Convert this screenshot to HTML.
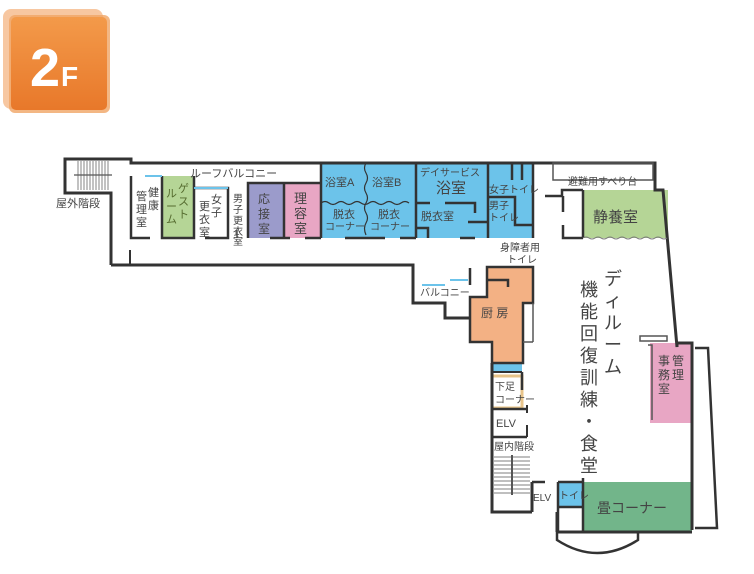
<!DOCTYPE html>
<html><head><meta charset="utf-8"><style>
html,body{margin:0;padding:0;background:#fff;width:754px;height:574px;overflow:hidden}
svg{display:block}
text{font-family:"Liberation Sans","Noto Sans CJK JP",sans-serif;fill:#444}
</style></head><body>
<svg width="754" height="574" viewBox="0 0 754 574" xmlns="http://www.w3.org/2000/svg">
<defs>
<linearGradient id="og" x1="0" y1="0" x2="0" y2="1"><stop offset="0" stop-color="#f39a4a"/><stop offset="1" stop-color="#e8782a"/></linearGradient>
</defs>
<!-- badge -->
<rect x="3" y="9" width="100" height="100" rx="8" fill="#f5b98a" opacity="0.8"/>
<rect x="9" y="15" width="101" height="98" rx="6" fill="#f0a565" opacity="0.8"/>
<rect x="11" y="17" width="96" height="93" rx="5" fill="url(#og)"/>
<text x="30" y="86" font-size="54" font-weight="bold" style="fill:#fff">2</text>
<text x="61" y="86" font-size="28" font-weight="bold" style="fill:#fff">F</text>

<!-- room fills -->
<rect x="162" y="176" width="32" height="62" fill="#b5d596"/>
<rect x="248" y="183" width="36" height="55" fill="#9b9bcb"/>
<rect x="284" y="183" width="37" height="55" fill="#e8a6c4"/>
<rect x="321" y="163" width="212" height="75" fill="#6cc3ea"/>
<rect x="583" y="190" width="85" height="48" fill="#b5d596"/>
<polygon points="487,267 533,267 533,303 523,303 523,363 492,363 492,342 470,342 470,297 487,297" fill="#f3b184"/>
<rect x="492" y="363" width="30" height="9" fill="#6cc3ea"/>
<rect x="492" y="376" width="30" height="32" fill="#fff" stroke="#e8c48a" stroke-width="3"/>
<rect x="650" y="343" width="42" height="80" fill="#e8a6c4"/>
<rect x="583" y="482" width="109" height="50" fill="#72b58a"/>
<rect x="558" y="482" width="25" height="25" fill="#6cc3ea"/>

<g fill="none" stroke="#333" stroke-width="3">
<polyline points="111,265 111,193 65,193 65,159 131,159 131,163 655,163 655,190 663,190 677,347 677,343 692,343 692,530"/>
<polyline points="111,265 413,265 413,303 445,303 445,318 470,318"/>
<polyline points="492,363 492,512 532,512"/>
<polyline points="557,532 692,532"/>
<line x1="557" y1="512" x2="557" y2="532"/>
<line x1="532" y1="482" x2="532" y2="512"/>
<polyline points="131,176 131,238 150,238" stroke-width="2.5"/>
<polyline points="162,176 162,238 194,238 194,176" stroke-width="2.5"/>
<polyline points="194,188 228,188 228,238 205,238" stroke-width="2.5"/>
<polyline points="248,238 248,183 321,183" stroke-width="2.5"/>
<line x1="284" y1="183" x2="284" y2="238" stroke-width="2.5"/>
<polyline points="270,238 290,238" stroke-width="2.5"/>
<polyline points="305,238 321,238" stroke-width="2.5"/>
<line x1="321" y1="163" x2="321" y2="238" stroke-width="2.5"/>
<line x1="130" y1="265" x2="130" y2="250" stroke-width="2"/>
<line x1="366" y1="238" x2="345" y2="238" stroke-width="2.5"/>
<line x1="366" y1="238" x2="385" y2="238" stroke-width="2.5"/>
<line x1="400" y1="238" x2="416" y2="238" stroke-width="2.5"/>
<line x1="416" y1="163" x2="416" y2="238" stroke-width="2.5"/>
<line x1="488" y1="163" x2="488" y2="238" stroke-width="2.5"/>
<line x1="533" y1="163" x2="533" y2="238" stroke-width="2.5"/>
<polyline points="416,203 430,203" stroke-width="2.5"/>
<polyline points="445,203 475,203 475,213" stroke-width="2.5"/>
<polyline points="416,228 428,228 428,238" stroke-width="2.5"/>
<polyline points="460,238 475,238" stroke-width="2.5"/>
<polyline points="468,222 488,222" stroke-width="2.5"/>
<polyline points="488,197 515,197 515,225 533,225" stroke-width="2.5"/>
<line x1="512" y1="163" x2="512" y2="180" stroke-width="2.5"/>
<line x1="522" y1="163" x2="522" y2="180" stroke-width="2.5"/>
<polyline points="545,196 562,196 562,190 583,190" stroke-width="2.5"/>
<line x1="563" y1="196" x2="563" y2="212" stroke-width="2.5"/>
<polyline points="563,225 563,238 583,238" stroke-width="2.5"/>
<line x1="583" y1="190" x2="583" y2="238" stroke-width="2.5"/>
<polygon points="487,267 533,267 533,303 523,303 523,363 492,363 492,342 470,342 470,297 487,297" stroke-width="2.5"/>
<polyline points="487,280 508,280 508,287" stroke-width="2.5"/>
<line x1="470" y1="268" x2="470" y2="285" stroke-width="2.5"/>
<line x1="522" y1="372" x2="522" y2="390" stroke-width="2.5"/>
<line x1="492" y1="372" x2="522" y2="372" stroke-width="2"/>
<line x1="492" y1="409" x2="527" y2="409" stroke-width="2.5"/>
<line x1="492" y1="437" x2="527" y2="437" stroke-width="2.5"/>
<line x1="527" y1="405" x2="527" y2="413" stroke-width="2"/>
<line x1="527" y1="425" x2="527" y2="437" stroke-width="2"/>
<polyline points="695,348 708,348 717,528 695,528" stroke-width="2.5"/>
<line x1="583" y1="478" x2="583" y2="532" stroke-width="2.5"/>
<line x1="558" y1="482" x2="583" y2="482" stroke-width="2.5"/>
<line x1="558" y1="507" x2="583" y2="507" stroke-width="2.5"/>
<line x1="558" y1="482" x2="558" y2="532" stroke-width="2.5"/>
<line x1="532" y1="482" x2="545" y2="482" stroke-width="2.5"/>
<path d="M557,532 V540 Q597,566 638,540 V532" stroke-width="2.5"/>
</g>
<g fill="none" stroke="#555" stroke-width="1.5">
<rect x="553" y="163" width="100" height="17"/>
<rect x="640" y="336" width="27" height="5"/>
<polyline points="652,420 652,345 648,345"/>
<line x1="533" y1="303" x2="533" y2="342"/>
<line x1="533" y1="342" x2="523" y2="342"/>
<line x1="237" y1="230" x2="237" y2="238"/>
</g>
<g stroke="#6cc3ea" stroke-width="2">
<line x1="145" y1="176" x2="162" y2="176"/>
<line x1="194" y1="188" x2="228" y2="188"/>
<line x1="422" y1="285" x2="445" y2="285"/>
<line x1="450" y1="280" x2="468" y2="280"/>
</g>
<path d="M321,203 q4,-3 8,0 t8,0 t8,0 t8,0 t8,0 t8,0 t8,0 t8,0 t8,0 t8,0 t8,0" fill="none" stroke="#333" stroke-width="1.2"/>
<path d="M366,163 q-3,5 0,10 t0,10 t0,10 t0,10 t0,10 t0,10 t0,12" fill="none" stroke="#333" stroke-width="1.2"/>
<path d="M583,238 q3,-2 6,0 t6,0 t6,0 t6,0 t6,0 t6,0 t6,0 t6,0 t6,0 t6,0 t6,0 t6,0 t6,0 t6,0" fill="none" stroke="#777" stroke-width="1"/>
<g stroke="#999" stroke-width="1.2">
<line x1="78" y1="160" x2="78" y2="190"/><line x1="81" y1="160" x2="81" y2="190"/><line x1="84" y1="160" x2="84" y2="190"/><line x1="87" y1="160" x2="87" y2="190"/><line x1="90" y1="160" x2="90" y2="190"/><line x1="93" y1="160" x2="93" y2="190"/><line x1="96" y1="160" x2="96" y2="190"/><line x1="99" y1="160" x2="99" y2="190"/><line x1="102" y1="160" x2="102" y2="190"/><line x1="105" y1="160" x2="105" y2="190"/><line x1="108" y1="160" x2="108" y2="190"/>
<line x1="74" y1="175" x2="112" y2="175" stroke="#555"/>
</g>
<g stroke="#999" stroke-width="1.2">
<line x1="494" y1="457" x2="530" y2="457"/><line x1="494" y1="461" x2="530" y2="461"/><line x1="494" y1="465" x2="530" y2="465"/><line x1="494" y1="469" x2="530" y2="469"/><line x1="494" y1="473" x2="530" y2="473"/><line x1="494" y1="477" x2="530" y2="477"/><line x1="494" y1="481" x2="530" y2="481"/><line x1="494" y1="485" x2="530" y2="485"/><line x1="494" y1="489" x2="530" y2="489"/><line x1="494" y1="493" x2="530" y2="493"/>
<line x1="512" y1="455" x2="512" y2="495" stroke="#555" stroke-width="2"/>
</g>
<g font-size="11">
<text x="56" y="207">屋外階段</text>
<text x="190" y="177">ルーフバルコニー</text>
<text x="136" y="200">管</text><text x="136" y="213">理</text><text x="136" y="226">室</text>
<text x="148" y="196">健</text><text x="148" y="209">康</text>
<text x="166" y="197" style="fill:#556b2f">ル</text><text x="166" y="210" style="fill:#556b2f">ー</text><text x="166" y="223" style="fill:#556b2f">ム</text>
<text x="178" y="192" style="fill:#556b2f">ゲ</text><text x="178" y="205" style="fill:#556b2f">ス</text><text x="178" y="218" style="fill:#556b2f">ト</text>
<text x="199" y="210">更</text><text x="199" y="223">衣</text><text x="199" y="236">室</text>
<text x="211" y="203">女</text><text x="211" y="216">子</text>
<text x="233" y="202" font-size="10">男</text><text x="233" y="213" font-size="10">子</text><text x="233" y="224" font-size="10">更</text><text x="233" y="235" font-size="10">衣</text><text x="233" y="245" font-size="10">室</text>
<text x="258" y="203" font-size="12">応</text><text x="258" y="218" font-size="12">接</text><text x="258" y="233" font-size="12">室</text>
<text x="294" y="203" font-size="13">理</text><text x="294" y="218" font-size="13">容</text><text x="294" y="233" font-size="13">室</text>
<text x="325" y="186">浴室A</text><text x="372" y="186">浴室B</text>
<text x="333" y="218">脱衣</text><text x="325" y="230" font-size="10">コーナー</text>
<text x="378" y="218">脱衣</text><text x="370" y="230" font-size="10">コーナー</text>
<text x="420" y="176" font-size="10">デイサービス</text>
<text x="436" y="193" font-size="15">浴室</text>
<text x="421" y="220">脱衣室</text>
<text x="489" y="193" font-size="10">女子トイレ</text>
<text x="489" y="209" font-size="10">男子</text><text x="489" y="221" font-size="10">トイレ</text>
<text x="568" y="185" font-size="10">避難用すべり台</text>
<text x="593" y="222" font-size="15">静養室</text>
<text x="500" y="251" font-size="10">身障者用</text><text x="507" y="263" font-size="10">トイレ</text>
<text x="420" y="296" font-size="10">バルコニー</text>
<text x="481" y="317" font-size="12">厨 房</text>
<text x="495" y="390" font-size="10">下足</text><text x="495" y="403" font-size="10">コーナー</text>
<text x="496" y="427">ELV</text>
<text x="494" y="450" font-size="10">屋内階段</text>
<text x="533" y="501" font-size="10">ELV</text>
<text x="559" y="499" font-size="10">トイレ</text>
<text x="597" y="513" font-size="14">畳コーナー</text>
<text x="658" y="365" font-size="12">事</text><text x="658" y="379" font-size="12">務</text><text x="658" y="393" font-size="12">室</text>
<text x="672" y="365" font-size="12">管</text><text x="672" y="379" font-size="12">理</text>
</g>
<g font-size="18">
<text x="604" y="285">デ</text><text x="604" y="307">ィ</text><text x="604" y="329">ル</text><text x="604" y="351">ー</text><text x="604" y="373">ム</text>
<text x="580" y="296">機</text><text x="580" y="318">能</text><text x="580" y="340">回</text><text x="580" y="362">復</text><text x="580" y="384">訓</text><text x="580" y="406">練</text><text x="580" y="428">・</text><text x="580" y="450">食</text><text x="580" y="472">堂</text>
</g>
</svg>
</body></html>
